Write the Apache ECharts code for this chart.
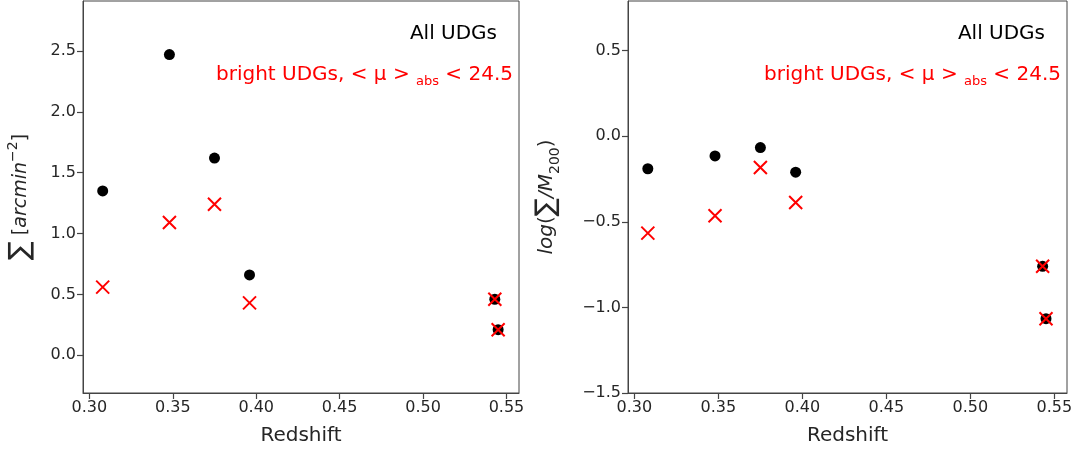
<!DOCTYPE html>
<html><head><meta charset="utf-8">
<script src="https://cdn.jsdelivr.net/npm/echarts@6/dist/echarts.min.js"></script>
<style>html,body{margin:0;padding:0;background:#fff}#c{width:1076px;height:454px}</style>
</head><body><div id="c"></div>
<script>
// Data
const redshift = [0.308, 0.348, 0.375, 0.396, 0.543, 0.545];
const sigmaAll = [1.35, 2.47, 1.62, 0.66, 0.46, 0.21];
const sigmaBright = [0.56, 1.09, 1.24, 0.43, 0.46, 0.21];
const logAll = [-0.19, -0.115, -0.066, -0.21, -0.76, -1.066];
const logBright = [-0.566, -0.465, -0.183, -0.387, -0.76, -1.066];
const xTicks = [0.30, 0.35, 0.40, 0.45, 0.50, 0.55];
const yTicksLeft = [0.0, 0.5, 1.0, 1.5, 2.0, 2.5];
const yTicksRight = [-1.5, -1.0, -0.5, 0.0, 0.5];

const pairs = (xs, ys) => xs.map((x, i) => [x, ys[i]]);
const FONT = 'DejaVu Sans';
const fmt1 = v => (Math.abs(v) < 1e-9 ? '0.0' : v.toFixed(1).replace('-', '\u2212'));
const fmt2 = v => v.toFixed(2);
const crossPath = 'path://M0,0L10,10M10,0L0,10';

function xAxis(gridIndex) {
  return {
    type: 'value', gridIndex, min: 0.2962, max: 0.5575,
    name: 'Redshift', nameLocation: 'middle', nameGap: 33,
    nameTextStyle: { fontFamily: FONT, fontSize: 20, color: '#262626' },
    axisLine: { show: true, onZero: false, lineStyle: { color: '#444', width: 1 } },
    axisTick: { show: true, length: 6, customValues: xTicks, lineStyle: { color: '#444', width: 1.2 } },
    axisLabel: { customValues: xTicks, formatter: fmt2, fontFamily: FONT, fontSize: 16, color: '#262626', margin: 7 },
    splitLine: { show: false }
  };
}
function yAxis(gridIndex, min, max, ticks, name, rich, gap) {
  return {
    type: 'value', gridIndex, min, max,
    name, nameLocation: 'middle', nameGap: gap, nameRotate: 90,
    nameTextStyle: { fontFamily: FONT, fontSize: 19, color: '#262626', rich },
    axisLine: { show: true, onZero: false, lineStyle: { color: '#444', width: 1 } },
    axisTick: { show: true, length: 6, customValues: ticks, lineStyle: { color: '#444', width: 1.2 } },
    axisLabel: { customValues: ticks, formatter: fmt1, fontFamily: FONT, fontSize: 16, color: '#262626', margin: 7 },
    splitLine: { show: false }
  };
}
function dots(xi, yi, data) {
  return { type: 'scatter', xAxisIndex: xi, yAxisIndex: yi, data, symbol: 'circle', symbolSize: 11,
    itemStyle: { color: '#000', opacity: 1 }, z: 2 };
}
function crosses(xi, yi, data) {
  return { type: 'scatter', xAxisIndex: xi, yAxisIndex: yi, data, symbol: crossPath, symbolSize: 13,
    itemStyle: { color: 'transparent', borderColor: '#ff0000', borderWidth: 2, opacity: 1 }, z: 3 };
}
const chart = echarts.init(document.getElementById('c'), null, { renderer: 'canvas' });
const annot = (right, top) => ([
  { type: 'text', right: right + 22, top: top, style: { text: 'All UDGs', fontFamily: FONT, fontSize: 20, fill: '#000' } },
  { type: 'text', right: right + 6, top: top + 41, style: {
      text: '{a|bright UDGs, < μ > }{s|abs}{a| < 24.5}',
      rich: { a: { fontFamily: FONT, fontSize: 20, fill: '#ff0000', color: '#ff0000', verticalAlign: 'middle', lineHeight: 26 },
              s: { fontFamily: FONT, fontSize: 13, fill: '#ff0000', color: '#ff0000', verticalAlign: 'bottom', lineHeight: 26 } } } }
]);
chart.setOption({
  animation: false,
  grid: [
    { left: 83, right: 557, top: 1, bottom: 61, show: true, borderColor: '#444', borderWidth: 1 },
    { left: 628, right: 9, top: 1, bottom: 61, show: true, borderColor: '#444', borderWidth: 1 }
  ],
  xAxis: [xAxis(0), xAxis(1)],
  yAxis: [
    yAxis(0, -0.31, 2.91, yTicksLeft, '{sig|∑} {a|[}{i|arcmin}{sup|−2}{a|]}', {
      sig: { fontFamily: FONT, fontSize: 28 }, a: { fontFamily: FONT, fontSize: 19 },
      i: { fontFamily: FONT, fontSize: 19, fontStyle: 'italic' }, sup: { fontFamily: FONT, fontSize: 14, verticalAlign: 'top', lineHeight: 30 }
    }, 47),
    yAxis(1, -1.5, 0.79, yTicksRight, '{i|log}{a|(}{sig|∑}{i|/M}{sub|200}{a|)}', {
      sig: { fontFamily: FONT, fontSize: 27 }, a: { fontFamily: FONT, fontSize: 20 },
      i: { fontFamily: FONT, fontSize: 20, fontStyle: 'italic' }, sub: { fontFamily: FONT, fontSize: 14, verticalAlign: 'bottom', lineHeight: 30 }
    }, 66)
  ],
  graphic: [...annot(557, 24), ...annot(9, 24)],
  series: [
    dots(0, 0, pairs(redshift, sigmaAll)),
    crosses(0, 0, pairs(redshift, sigmaBright)),
    dots(1, 1, pairs(redshift, logAll)),
    crosses(1, 1, pairs(redshift, logBright))
  ]
});
</script></body></html>
